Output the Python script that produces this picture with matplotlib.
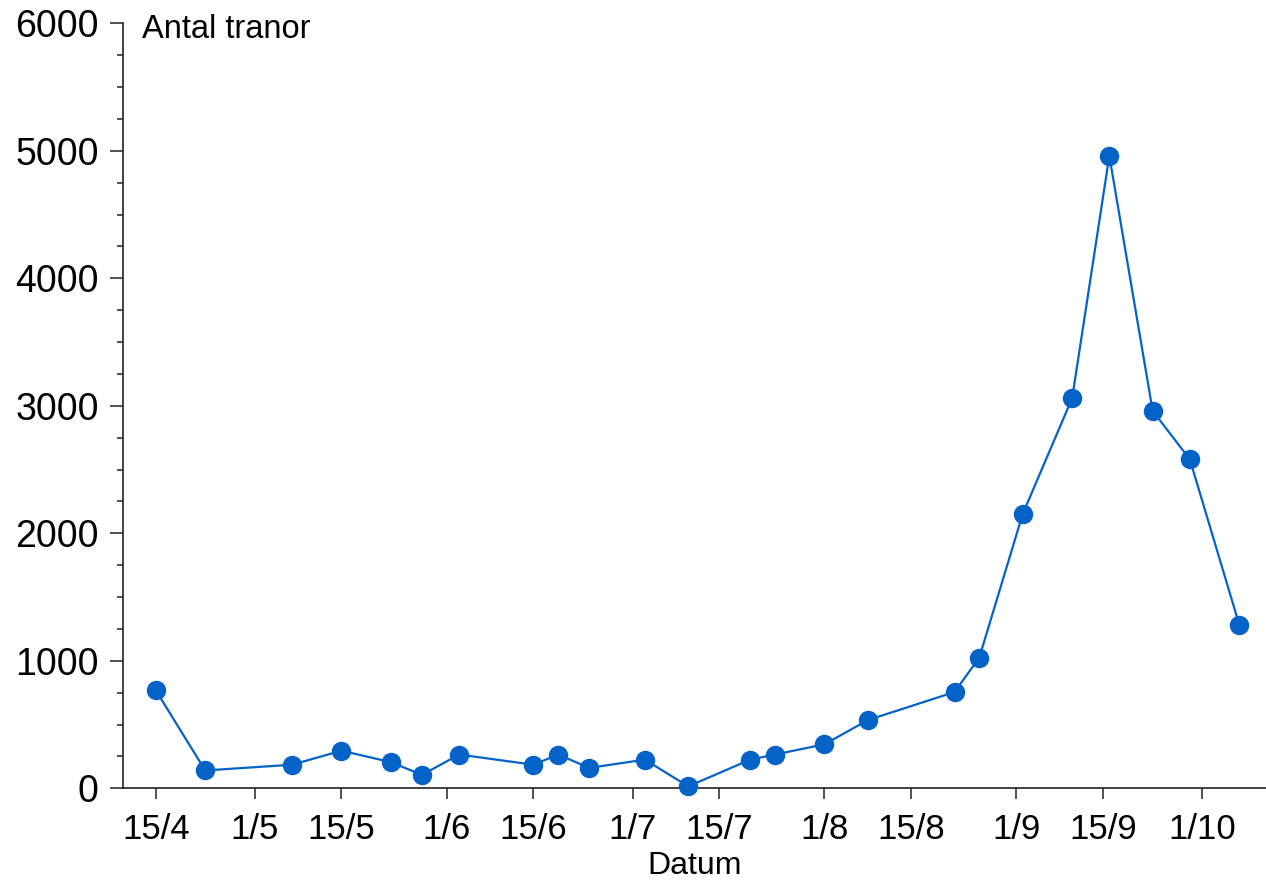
import datetime as dt
import matplotlib
matplotlib.use("Agg")
import matplotlib.pyplot as plt
from matplotlib.ticker import MultipleLocator

plt.rcParams['font.family'] = ['Liberation Sans', 'DejaVu Sans']

# sampling dates (day/month) and number of cranes counted
dates = ["15/4", "23/4", "7/5", "15/5", "23/5", "28/5", "3/6", "15/6", "19/6",
         "24/6", "3/7", "10/7", "20/7", "24/7", "1/8", "8/8", "22/8", "26/8",
         "2/9", "10/9", "16/9", "23/9", "29/9", "7/10"]
counts = [770, 140, 185, 295, 205, 105, 265, 185, 265,
          160, 225, 15, 225, 265, 345, 535, 755, 1025,
          2150, 3060, 4960, 2960, 2580, 1280]

tick_labels = ["15/4", "1/5", "15/5", "1/6", "15/6", "1/7", "15/7",
               "1/8", "15/8", "1/9", "15/9", "1/10"]

YEAR = 2019


def to_date(s):
    d, m = s.split("/")
    return dt.datetime(YEAR, int(m), int(d))


x = [to_date(s) for s in dates]
xt = [to_date(s) for s in tick_labels]

fig = plt.figure(figsize=(12.66, 8.81), dpi=100)
ax = fig.add_axes([0.0972, 0.1052, 0.9028, 0.8684])

blue = '#0563c8'
ax.plot(x, counts, color=blue, lw=1.6, marker='o', markersize=13,
        markerfacecolor=blue, markeredgecolor=blue, zorder=3, clip_on=False)

start = dt.datetime(YEAR, 4, 1)
ax.set_xlim(start + dt.timedelta(days=8.73), start + dt.timedelta(days=193.3))
ax.set_ylim(0, 6000)

ax.set_xticks(xt)
ax.set_xticklabels(tick_labels)
ax.yaxis.set_major_locator(MultipleLocator(1000))
ax.yaxis.set_minor_locator(MultipleLocator(250))

for s in ['top', 'right']:
    ax.spines[s].set_visible(False)
for s in ['left', 'bottom']:
    ax.spines[s].set_linewidth(1.2)
    ax.spines[s].set_color('#222222')

ax.tick_params(axis='y', which='major', direction='out', length=9.5, width=1.1,
               labelsize=27, pad=8, color='#222222')
ax.tick_params(axis='y', which='minor', direction='out', length=4.5, width=1.1,
               color='#222222')
ax.tick_params(axis='x', which='major', direction='out', length=8, width=1.1,
               labelsize=25, pad=10, color='#222222')

ax.set_xlabel("Datum", fontsize=23)
ax.xaxis.label.set_va('bottom')
ax.xaxis.set_label_coords(0.5, -0.1205)

ax.text(0.0164, 0.981, "Antal tranor", transform=ax.transAxes, fontsize=23.5,
        ha='left', va='baseline')

fig.savefig("out.png", dpi=100)
